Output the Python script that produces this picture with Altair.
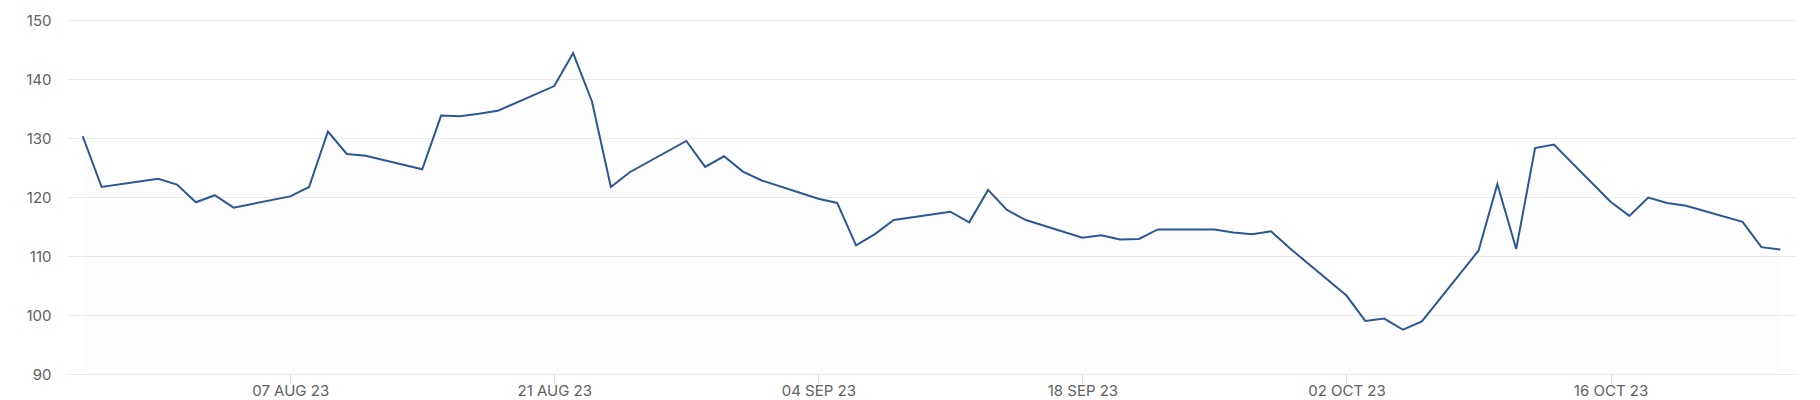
import altair as alt
import pandas as pd

dates = [
    "2023-07-27", "2023-07-28", "2023-07-31", "2023-08-01", "2023-08-02", "2023-08-03", "2023-08-04",
    "2023-08-07", "2023-08-08", "2023-08-09", "2023-08-10", "2023-08-11",
    "2023-08-14", "2023-08-15", "2023-08-16", "2023-08-17", "2023-08-18",
    "2023-08-21", "2023-08-22", "2023-08-23", "2023-08-24", "2023-08-25",
    "2023-08-28", "2023-08-29", "2023-08-30", "2023-08-31", "2023-09-01",
    "2023-09-04", "2023-09-05", "2023-09-06", "2023-09-07", "2023-09-08",
    "2023-09-11", "2023-09-12", "2023-09-13", "2023-09-14", "2023-09-15",
    "2023-09-18", "2023-09-19", "2023-09-20", "2023-09-21", "2023-09-22",
    "2023-09-25", "2023-09-26", "2023-09-27", "2023-09-28", "2023-09-29",
    "2023-10-02", "2023-10-03", "2023-10-04", "2023-10-05", "2023-10-06",
    "2023-10-09", "2023-10-10", "2023-10-11", "2023-10-12", "2023-10-13",
    "2023-10-16", "2023-10-17", "2023-10-18", "2023-10-19", "2023-10-20",
    "2023-10-23", "2023-10-24", "2023-10-25",
]
values = [
    130.3, 121.7, 123.1, 122.1, 119.1, 120.3, 118.2,
    120.1, 121.7, 131.1, 127.3, 127.0,
    124.7, 133.8, 133.7, 134.1, 134.6,
    138.8, 144.4, 136.2, 121.7, 124.2,
    129.5, 125.1, 126.9, 124.3, 122.8,
    119.7, 119.0, 111.8, 113.7, 116.1,
    117.5, 115.7, 121.2, 117.8, 116.1,
    113.1, 113.5, 112.8, 112.9, 114.5,
    114.5, 114.0, 113.7, 114.2, 111.3,
    103.3, 99.0, 99.4, 97.5, 98.9,
    110.9, 122.2, 111.2, 128.3, 128.9,
    119.2, 116.8, 119.9, 119.0, 118.5,
    115.8, 111.5, 111.1,
]
y_ticks = [90, 100, 110, 120, 130, 140, 150]
x_tick_dates = [(2023, 8, 7), (2023, 8, 21), (2023, 9, 4), (2023, 9, 18), (2023, 10, 2), (2023, 10, 16)]

df = pd.DataFrame({"date": dates, "value": values})

LINE = "#2b5797"
FONT = "Inter"

x_enc = alt.X(
    "date:T",
    title=None,
    scale=alt.Scale(
        type="utc",
        domain=[
            alt.DateTime(year=2023, month=7, date=26, hours=4, utc=True),
            alt.DateTime(year=2023, month=10, date=25, hours=20, utc=True),
        ],
    ),
    axis=alt.Axis(
        values=[alt.DateTime(year=y, month=m, date=d, utc=True) for (y, m, d) in x_tick_dates],
        labelExpr="upper(utcFormat(datum.value, '%d %b %y'))",
        grid=False,
        domain=False,
        ticks=True,
        tickSize=8,
        tickColor="#dddddd",
        labelPadding=1,
        labelFont=FONT,
        labelFontSize=15,
        labelColor="#616161",
        labelOverlap=False,
        labelFlush=False,
    ),
)
y_enc = alt.Y(
    "value:Q",
    title=None,
    scale=alt.Scale(domain=[90, 150], nice=False, zero=False),
    axis=alt.Axis(
        values=y_ticks,
        grid=True,
        gridColor="#ebebeb",
        gridWidth=1,
        domain=False,
        ticks=False,
        labelPadding=16,
        labelFont=FONT,
        labelFontSize=15,
        labelColor="#616161",
    ),
)

area = alt.Chart(df).mark_area(color=LINE, opacity=0.01).encode(
    x=x_enc, y=y_enc, y2=alt.datum(90)
)
line = alt.Chart(df).mark_line(color=LINE, strokeWidth=2).encode(x=x_enc, y=y_enc)

chart = (
    alt.layer(area, line)
    .properties(
        width=1729,
        height=354,
        autosize=alt.AutoSizeParams(type="none"),
        padding={"left": 59, "top": 12, "right": 16, "bottom": 26},
        background="white",
    )
    .configure_view(stroke=None)
)

chart.save("out.html", embed_options={"renderer": "svg", "actions": False})
